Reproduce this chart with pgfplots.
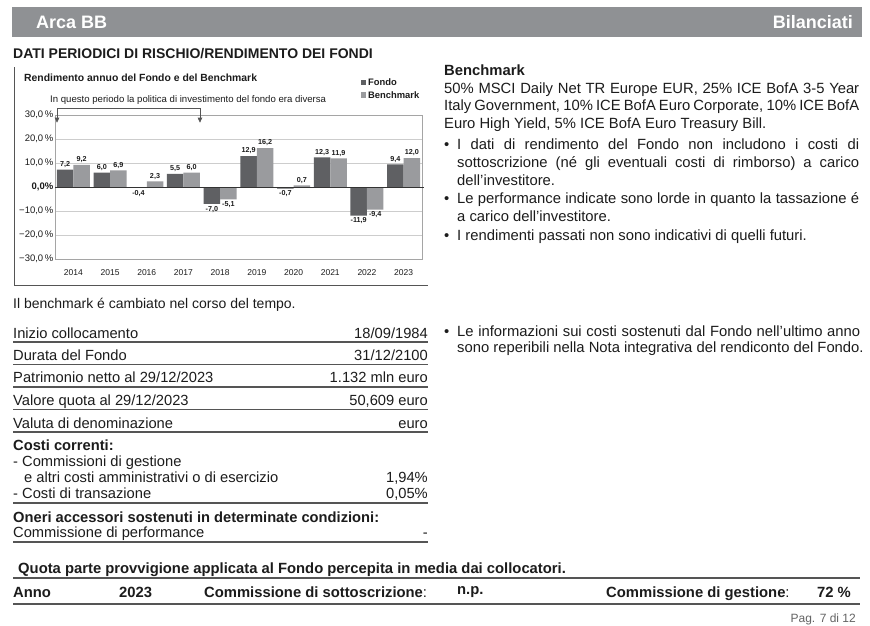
\documentclass[border=0pt]{standalone}
\usepackage{fontspec}
\setmainfont{Liberation Sans}
\usepackage{pgfplots}
\pgfplotsset{compat=1.18}
\usetikzlibrary{arrows.meta}

\definecolor{hdr}{RGB}{143,145,148}
\definecolor{fondo}{RGB}{95,96,99}
\definecolor{bench}{RGB}{154,155,158}
\definecolor{gridc}{RGB}{205,205,205}
\definecolor{framec}{RGB}{165,165,165}
\definecolor{txt}{RGB}{28,28,28}
\definecolor{rulec}{RGB}{85,85,85}
\definecolor{pagec}{RGB}{100,100,100}

\newcommand\fs[1]{\fontsize{#1}{#1}\selectfont}
% one table row: baseline, left text, right text
\newcommand\trow[3]{%
  \node[anchor=base west,inner sep=0,font=\fs{14.7},text=txt] at (13,-#1) {#2};
  \node[anchor=base east,inner sep=0,font=\fs{14.7},text=txt] at (428,-#1) {#3};}
\newcommand\tline[1]{\draw[rulec,line width=1.3pt] (13,-#1) -- (428,-#1);}
\newcommand\ttxt[3]{\node[anchor=base west,inner sep=0,font=\fs{14.7},text=txt] at (#1,-#2) {#3};}
\newcommand\rtxt[3]{\node[anchor=base west,inner sep=0,font=\fs{14.8},text=txt] at (#1,-#2) {#3};}
\newcommand\btxt[3]{\node[anchor=base west,inner sep=0,font=\bfseries\fs{14.8},text=txt] at (#1,-#2) {#3};}

\begin{document}
\begin{tikzpicture}[x=1pt,y=1pt]
\fill[white] (0,0) rectangle (870,-625);

% header bar
\fill[hdr] (12,-7) rectangle (862,-37);
\node[anchor=base west,inner sep=0,text=white,font=\bfseries\fs{18}] at (36,-28) {Arca BB};
\node[anchor=base east,inner sep=0,text=white,font=\bfseries\fs{18}] at (853,-28) {Bilanciati};
\node[anchor=base west,inner sep=0,text=txt,font=\bfseries\fs{14}] at (13,-58.5) {DATI PERIODICI DI RISCHIO/RENDIMENTO DEI FONDI};

% chart frame and titles
\draw[rulec,line width=0.8pt] (14,-67) -- (14,-285) -- (428,-285);
\node[anchor=base west,inner sep=0,text=txt,font=\bfseries\fs{10.4}] at (24,-81.5) {Rendimento annuo del Fondo e del Benchmark};
\node[anchor=base west,inner sep=0,text=txt,font=\fs{9.6}] at (50,-102) {In questo periodo la politica di investimento del fondo era diversa};

\begin{axis}[
  at={(55pt,-259pt)}, anchor=south west,
  scale only axis, width=367pt, height=144pt,
  ybar=0pt, bar width=16.5pt,
  xmin=-0.5, xmax=9.5, ymin=-30, ymax=30,
  xtick={0,...,9},
  xticklabels={2014,2015,2016,2017,2018,2019,2020,2021,2022,2023},
  ytick={-30,-20,-10,0,10,20,30},
  yticklabels={{−30,0\,\%},{−20,0\,\%},{−10,0\,\%},{\textbf{0,0\%}},{10,0\,\%},{20,0\,\%},{30,0\,\%}},
  major tick length=0pt,
  axis line style={framec,line width=0.8pt},
  ymajorgrids, grid style={gridc,line width=0.7pt},
  xticklabel style={font=\fs{8.5},text=txt,yshift=-7pt},
  yticklabel style={font=\fs{9.5},text=txt,inner sep=1.5pt},
  nodes near coords, nodes near coords align={vertical},
  every node near coord/.append style={font=\bfseries\fs{7.2},text=txt,inner sep=2pt},
  /pgf/number format/use comma,
  /pgf/number format/fixed,
  /pgf/number format/fixed zerofill,
  /pgf/number format/precision=1,
  /pgf/number format/assume math mode=true,
  clip=false,
  legend style={at={(axis description cs:0.832,1.262)}, anchor=north west,
    draw=none, fill=none, font=\bfseries\fs{9.4}, text=txt,
    inner sep=0pt, row sep=2.5pt, nodes={inner sep=1pt,inner xsep=2pt}},
  legend cell align=left,
  legend image code/.code={\fill[#1] (0pt,-2.5pt) rectangle (5.5pt,3pt);},
]
\addplot[fill=fondo,draw=none] coordinates {(0,7.2) (1,6.0) (2,-0.4) (3,5.5) (4,-7.0) (5,12.9) (6,-0.7) (7,12.3) (8,-11.9) (9,9.4)};
\addlegendentry{Fondo}
\addplot[fill=bench,draw=none] coordinates {(0,9.2) (1,6.9) (2,2.3) (3,6.0) (4,-5.1) (5,16.2) (6,0.7) (7,11.9) (8,-9.4) (9,12.0)};
\addlegendentry{Benchmark}
\draw[black!80,line width=0.9pt] (axis cs:-0.5,0) -- (axis cs:9.55,0);
\draw[rulec,line width=0.7pt,{Triangle[width=4.5pt,length=5pt]}-{Triangle[width=4.5pt,length=5pt]}]
  (axis cs:-0.445,26.8) -- (axis cs:-0.445,32.9) -- (axis cs:3.45,32.9) -- (axis cs:3.45,26.8);
\end{axis}

% note under chart
\node[anchor=base west,inner sep=0,font=\fs{14},text=txt] at (13,-308) {Il benchmark é cambiato nel corso del tempo.};

% table
\trow{338}{Inizio collocamento}{18/09/1984}
\tline{342}
\trow{360.3}{Durata del Fondo}{31/12/2100}
\tline{364.5}
\trow{382.7}{Patrimonio netto al 29/12/2023}{1.132 mln euro}
\tline{387}
\trow{405}{Valore quota al 29/12/2023}{50,609 euro}
\tline{409.5}
\trow{428}{Valuta di denominazione}{euro}
\tline{432}
\ttxt{13}{450}{\bfseries Costi correnti:}
\ttxt{13}{466}{- Commissioni di gestione}
\trow{482}{\hspace{11pt}e altri costi amministrativi o di esercizio}{1,94\%}
\trow{498.5}{- Costi di transazione}{0,05\%}
\tline{503}
\ttxt{13}{522.5}{\bfseries Oneri accessori sostenuti in determinate condizioni:}
\trow{537}{Commissione di performance}{-}
\tline{542}

% right column
\btxt{444}{75}{Benchmark}
\rtxt{444}{93}{\makebox[415pt][s]{50\% MSCI Daily Net TR Europe EUR, 25\% ICE BofA 3-5 Year}}
\rtxt{444}{110.7}{\makebox[415pt][s]{Italy Government, 10\% ICE BofA Euro Corporate, 10\% ICE BofA}}
\rtxt{444}{128.3}{Euro High Yield, 5\% ICE BofA Euro Treasury Bill.}
\rtxt{444}{149}{•}
\rtxt{457}{149}{\makebox[402pt][s]{I dati di rendimento del Fondo non includono i costi di}}
\rtxt{457}{167}{\makebox[402pt][s]{sottoscrizione (né gli eventuali costi di rimborso) a carico}}
\rtxt{457}{185}{dell’investitore.}
\rtxt{444}{203}{•}
\rtxt{457}{203}{\makebox[402pt][s]{Le performance indicate sono lorde in quanto la tassazione é}}
\rtxt{457}{221}{a carico dell’investitore.}
\rtxt{444}{240}{•}
\rtxt{457}{240}{I rendimenti passati non sono indicativi di quelli futuri.}
\rtxt{444}{336.5}{•}
\rtxt{457}{336.5}{\makebox[403pt][s]{Le informazioni sui costi sostenuti dal Fondo nell’ultimo anno}}
\rtxt{457}{352.5}{sono reperibili nella Nota integrativa del rendiconto del Fondo.}

% bottom section
\btxt{18}{573}{Quota parte provvigione applicata al Fondo percepita in media dai collocatori.}
\draw[rulec,line width=1.6pt] (13,-578) -- (860,-578);
\btxt{13}{597}{Anno}
\btxt{119}{597}{2023}
\btxt{204}{597}{Commissione di sottoscrizione{\mdseries :}}
\btxt{457}{594}{n.p.}
\btxt{606}{597}{Commissione di gestione{\mdseries :}}
\node[anchor=base east,inner sep=0,text=txt,font=\bfseries\fs{14.8}] at (851,-597) {72 \%};
\draw[rulec,line width=1.6pt] (13,-604) -- (860,-604);
\node[anchor=base east,inner sep=0,text=pagec,font=\fs{12}] at (856,-622) {Pag. 7 di 12};
\end{tikzpicture}
\end{document}
